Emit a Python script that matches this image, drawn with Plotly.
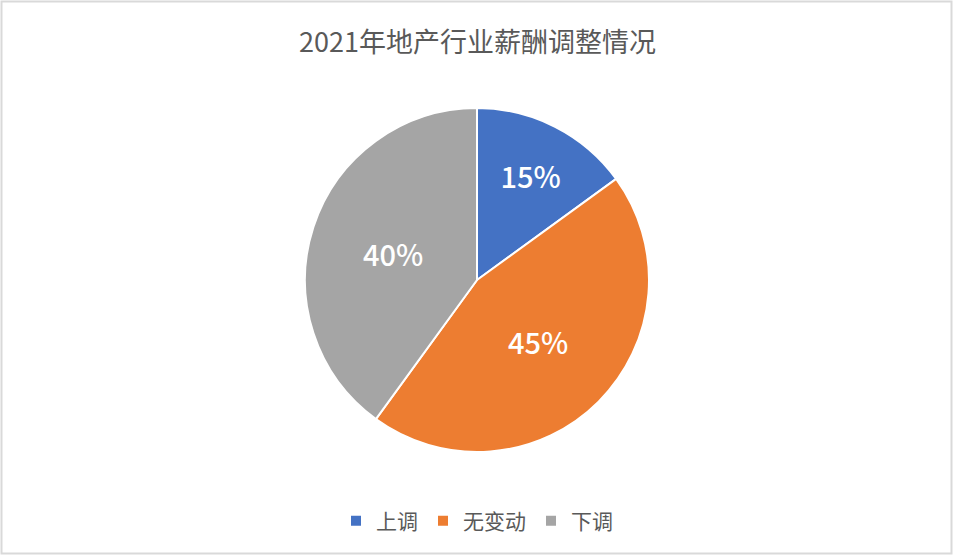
import plotly.graph_objects as go

categories = ["上调", "无变动", "下调"]
values = [15, 45, 40]
colors = ["#4472C4", "#ED7D31", "#A5A5A5"]
title_text = "2021年地产行业薪酬调整情况"

W, H = 954, 556
cx, cy, r = 477, 280, 172

fig = go.Figure(go.Pie(
    labels=categories,
    values=values,
    sort=False,
    direction="clockwise",
    rotation=0,
    marker=dict(colors=colors, line=dict(color="white", width=2)),
    textinfo="percent",
    texttemplate="%{percent:.0%}",
    textposition="inside",
    insidetextorientation="horizontal",
    textfont=dict(color="white", size=29, family="Noto Sans CJK SC", weight=500),
    domain=dict(x=[(cx - r) / W, (cx + r) / W], y=[(H - cy - r) / H, (H - cy + r) / H]),
    hoverinfo="label+percent",
))

fig.update_layout(
    width=W, height=H,
    margin=dict(l=0, r=0, t=0, b=0),
    paper_bgcolor="white",
    font=dict(family="Noto Sans CJK SC", color="#595959"),
    showlegend=True,
    legend=dict(orientation="h", x=0.5, xanchor="center", y=(H - 521) / H, yanchor="middle",
                font=dict(size=21, color="#595959"), itemwidth=30, traceorder="normal"),
    annotations=[dict(text=title_text, x=0.5, y=(H - 40) / H, xref="paper", yref="paper",
                      showarrow=False, font=dict(size=27, color="#595959"),
                      xanchor="center", yanchor="middle")],
    shapes=[dict(type="rect", xref="paper", yref="paper", x0=1.5 / W, x1=1 - 2.5 / W,
                 y0=2.5 / H, y1=1 - 1.5 / H, line=dict(color="#D9D9D9", width=2))],
)

fig.write_html("out.html", config={"displayModeBar": False},
               post_script="document.body.style.margin='0';document.body.style.overflow='hidden';")
